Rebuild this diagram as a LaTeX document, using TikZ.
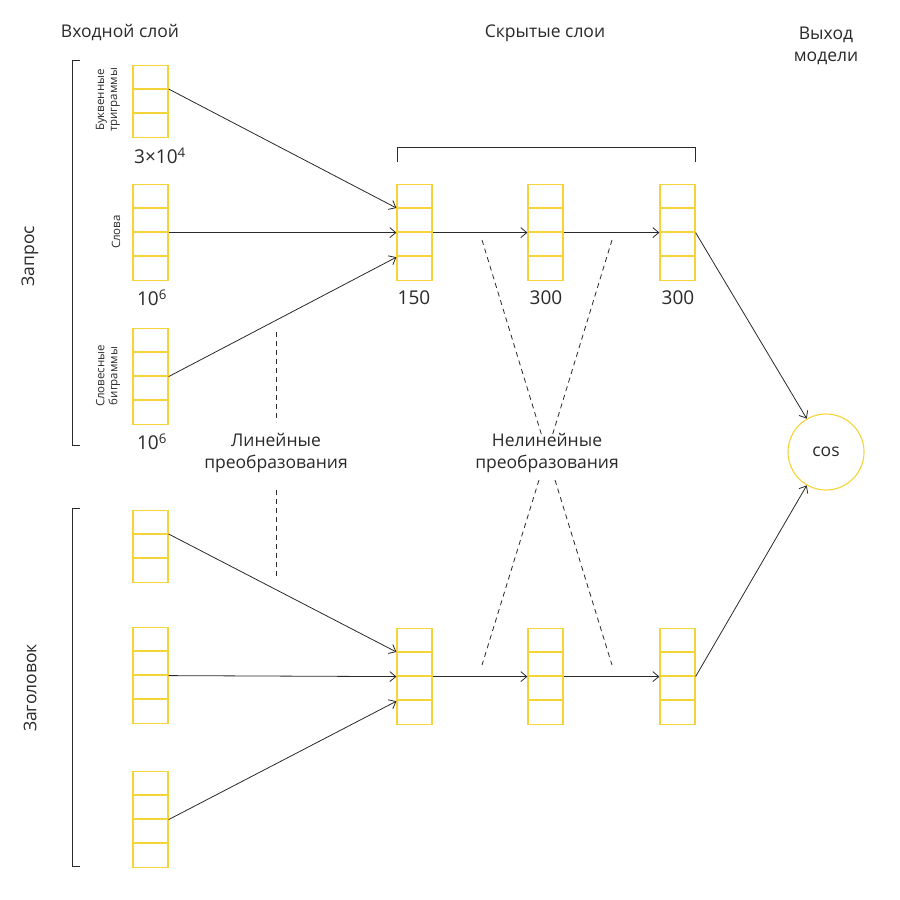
\documentclass[tikz,border=0pt]{standalone}
\usepackage{fontspec}
\setmainfont{Open Sans}
\usetikzlibrary{arrows.meta}
\definecolor{yel}{HTML}{F5D43A}
\definecolor{ink}{HTML}{2A2A2A}
\newcommand{\myblk}[4]{% name, x center, y top, cells
  \node[draw=yel,line width=1.2pt,minimum width=35pt,minimum height={#4*24pt},inner sep=0pt,anchor=north] (#1) at (#2,#3) {};
  \foreach \k in {1,...,#4}{\ifnum\k<#4 \draw[yel,line width=1.2pt] ([yshift=-\k*24pt]#1.north west) -- ([yshift=-\k*24pt]#1.north east);\fi}}
\begin{document}
\begin{tikzpicture}[x=1pt,y=-1pt,
  con/.style={ink,line width=0.8pt,-{Straight Barb[length=6pt,width=10pt]}},
  dsh/.style={ink,line width=0.8pt,dash pattern=on 5pt off 4pt},
  br/.style={ink,line width=1pt},
  ttl/.style={font=\fontsize{17.5}{22}\selectfont,align=center,text=ink},
  num/.style={font=\fontsize{19}{22}\selectfont,text=ink},
  sml/.style={font=\fontsize{11.5}{13}\selectfont,align=center,text=ink,rotate=90}]
\useasboundingbox (0,0) rectangle (900,900);
\fill[white] (0,0) rectangle (900,900);
% input
\myblk{a1}{150.5}{65}{3}
\myblk{a2}{150.5}{184}{4}
\myblk{a3}{150.5}{328}{4}
\myblk{b1}{150.5}{510}{3}
\myblk{b2}{150.5}{627}{4}
\myblk{b3}{150.5}{771}{4}
% hidden
\myblk{h1}{414.5}{184}{4}
\myblk{h2}{545.5}{184}{4}
\myblk{h3}{677.5}{184}{4}
\myblk{g1}{414.5}{628}{4}
\myblk{g2}{545.5}{628}{4}
\myblk{g3}{677.5}{628}{4}
\node[draw=yel,line width=1.1pt,circle,minimum size=76pt,inner sep=0pt,font=\fontsize{17.5}{20}\selectfont,text=ink] (cos) at (826,452) {cos};
% connectors
\draw[con] ([yshift=-24pt]a1.north east) -- ([yshift=-24pt]h1.north west);
\draw[con] (a2.east) -- (h1.west);
\draw[con] (a3.east) -- ([yshift=24pt]h1.south west);
\draw[con] (h1.east) -- (h2.west);
\draw[con] (h2.east) -- (h3.west);
\draw[con] (h3.east) -- (cos.120);
\draw[con] ([yshift=-24pt]b1.north east) -- ([yshift=-24pt]g1.north west);
\draw[con] (b2.east) -- (g1.west);
\draw[con] (b3.east) -- ([yshift=24pt]g1.south west);
\draw[con] (g1.east) -- (g2.west);
\draw[con] (g2.east) -- (g3.west);
\draw[con] (g3.east) -- (cos.240);
% brackets
\draw[br] (80,60) -- (72,60) -- (72,445) -- (80,445);
\draw[br] (80,508) -- (72,508) -- (72,866) -- (80,866);
\draw[br] (397,162) -- (397,147) -- (695,147) -- (695,162);
% dashed
\draw[dsh] (276,332) -- (276,422);
\draw[dsh] (276,490) -- (276,577);
\draw[dsh] (482,240) -- (542.5,438);
\draw[dsh] (555,480) -- (612,665);
\draw[dsh] (612,240) -- (551.5,438);
\draw[dsh] (539,480) -- (482,665);
% texts
\node[ttl] (t1) at (120,33) {Входной слой};
\node[ttl] (t2) at (545,33) {Скрытые слои};
\node[ttl] (t3) at (826,46) {Выход\\модели};
\node[ttl,rotate=90] (t4) at (30,256) {Запрос};
\node[ttl,rotate=90] (t5) at (30,688) {Заголовок};
\node[ttl] (t6) at (276,453) {Линейные\\преобразования};
\node[ttl] (t7) at (547,453) {Нелинейные\\преобразования};
\node[num] (n1) at (160,156) {3×10\textsuperscript{4}};
\node[num] (n2) at (152,298) {10\textsuperscript{6}};
\node[num] (n3) at (152,442) {10\textsuperscript{6}};
\node[num] (n4) at (414,298) {150};
\node[num] (n5) at (546,298) {300};
\node[num] (n6) at (678,298) {300};
\node[sml] (s1) at (108,100) {Буквенные\\триграммы};
\node[sml] (s2) at (116,232) {Слова};
\node[sml] (s3) at (108,376) {Словесные\\биграммы};
\end{tikzpicture}
\end{document}
